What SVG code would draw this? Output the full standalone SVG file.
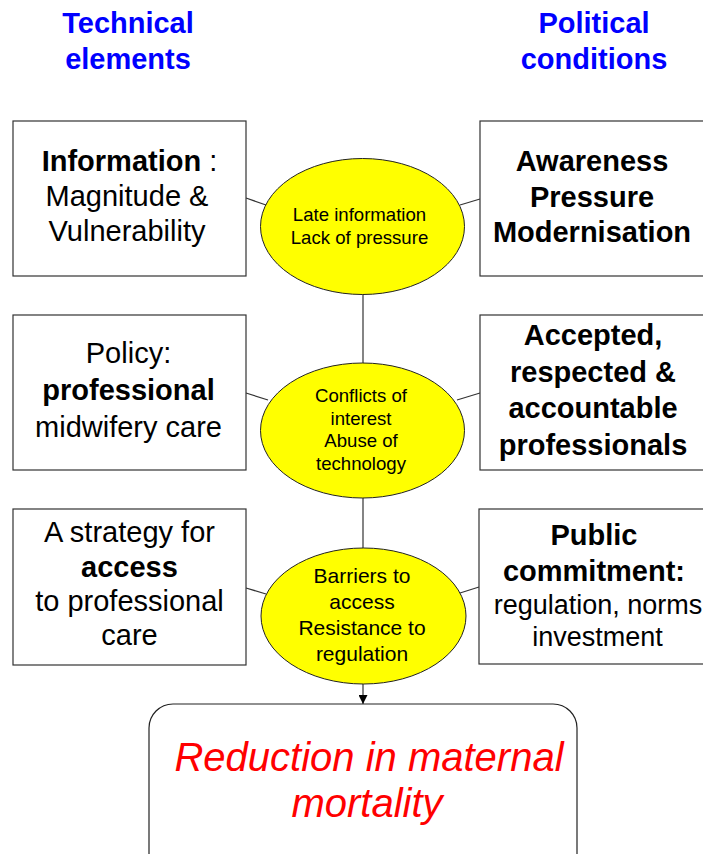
<svg xmlns="http://www.w3.org/2000/svg" width="703" height="854" viewBox="0 0 703 854">
<defs>
<style>
.box{fill:#fff;stroke:#333;stroke-width:1.2}
.ell{fill:#ffff00;stroke:#222;stroke-width:1}
.con{stroke:#333;stroke-width:1.2;fill:none}
text{font-family:"Liberation Sans",Arial,sans-serif;fill:#000;text-anchor:middle}
.t28{font-size:29px}
.t26{font-size:27px}
.b{font-weight:bold}
.e18{font-size:18.6px}
.e20{font-size:21px}
.title{font-size:29px;font-weight:bold;fill:#0000ff}
.res{font-size:40px;font-style:italic;fill:#ff0000}
</style>
<marker id="arr" viewBox="0 0 10 10" refX="10" refY="5" markerWidth="9" markerHeight="9" markerUnits="userSpaceOnUse" orient="auto">
<path d="M0,0 L10,5 L0,10 z" fill="#000"/>
</marker>
</defs>
<rect width="703" height="854" fill="#fff"/>

<g id="titles">
<text class="title" x="128" y="33">Technical</text>
<text class="title" x="128" y="69">elements</text>
<text class="title" x="594" y="33">Political</text>
<text class="title" x="594" y="69">conditions</text>
</g>

<g id="connectors">
<line class="con" x1="363" y1="294" x2="363" y2="363"/>
<line class="con" x1="363" y1="498" x2="363" y2="548"/>
<line class="con" x1="363" y1="684" x2="363" y2="704" marker-end="url(#arr)"/>
<line class="con" x1="246" y1="198" x2="266" y2="205"/>
<line class="con" x1="460" y1="205" x2="480" y2="199"/>
<line class="con" x1="246" y1="393" x2="268" y2="400"/>
<line class="con" x1="457" y1="400" x2="480" y2="393"/>
<line class="con" x1="246" y1="588" x2="266" y2="594"/>
<line class="con" x1="460" y1="593" x2="479" y2="587"/>
</g>

<g id="info">
<rect class="box" x="13" y="121" width="233" height="155"/>
<text class="t28" x="129.5" y="171"><tspan class="b">Information</tspan> :</text>
<text class="t28" x="127" y="206">Magnitude &amp;</text>
<text class="t28" x="127" y="241">Vulnerability</text>
</g>

<g id="awareness">
<rect class="box" x="480" y="121" width="240" height="155"/>
<text class="t28 b" x="592" y="171">Awareness</text>
<text class="t28 b" x="592" y="207">Pressure</text>
<text class="t28 b" x="592" y="242">Modernisation</text>
</g>

<g id="late">
<ellipse class="ell" cx="362.5" cy="226.5" rx="102" ry="68"/>
<text class="e18" x="359.5" y="221">Late information</text>
<text class="e18" x="359.5" y="243.5">Lack of pressure</text>
</g>

<g id="policy">
<rect class="box" x="13" y="315" width="233" height="155"/>
<text class="t28" x="128.5" y="363">Policy:</text>
<text class="t28 b" x="128.5" y="400">professional</text>
<text class="t28" x="128.5" y="436.5">midwifery care</text>
</g>

<g id="accepted">
<rect class="box" x="480" y="315" width="240" height="155"/>
<text class="t28 b" x="593" y="345">Accepted,</text>
<text class="t28 b" x="593" y="381.5">respected &amp;</text>
<text class="t28 b" x="593" y="418">accountable</text>
<text class="t28 b" x="593" y="454.5">professionals</text>
</g>

<g id="conflicts">
<ellipse class="ell" cx="362.5" cy="430.5" rx="102" ry="67.5"/>
<text class="e18" x="361" y="402">Conflicts of</text>
<text class="e18" x="361" y="424.5">interest</text>
<text class="e18" x="361" y="447">Abuse of</text>
<text class="e18" x="361" y="469.5">technology</text>
</g>

<g id="strategy">
<rect class="box" x="13" y="509" width="233" height="156"/>
<text class="t28" x="129.5" y="541.5">A strategy for</text>
<text class="t28 b" x="129.5" y="576.5">access</text>
<text class="t28" x="129.5" y="610.5">to professional</text>
<text class="t28" x="129.5" y="645">care</text>
</g>

<g id="public">
<rect class="box" x="479" y="509" width="240" height="155"/>
<text class="t28 b" x="594" y="545">Public</text>
<text class="t28 b" x="594" y="580.5">commitment:</text>
<text class="t26" x="598" y="613.5">regulation, norms</text>
<text class="t26" x="597.5" y="646">investment</text>
</g>

<g id="barriers">
<ellipse class="ell" cx="363.5" cy="616" rx="102.5" ry="68"/>
<text class="e20" x="362" y="583">Barriers to</text>
<text class="e20" x="362" y="609">access</text>
<text class="e20" x="362" y="635">Resistance to</text>
<text class="e20" x="362" y="660.5">regulation</text>
</g>

<g id="reduction">
<rect class="box" x="149" y="704" width="428" height="180" rx="24" ry="24" style="stroke:#222"/>
<text class="res" x="369" y="771">Reduction in maternal</text>
<text class="res" x="367" y="817">mortality</text>
</g>
</svg>
